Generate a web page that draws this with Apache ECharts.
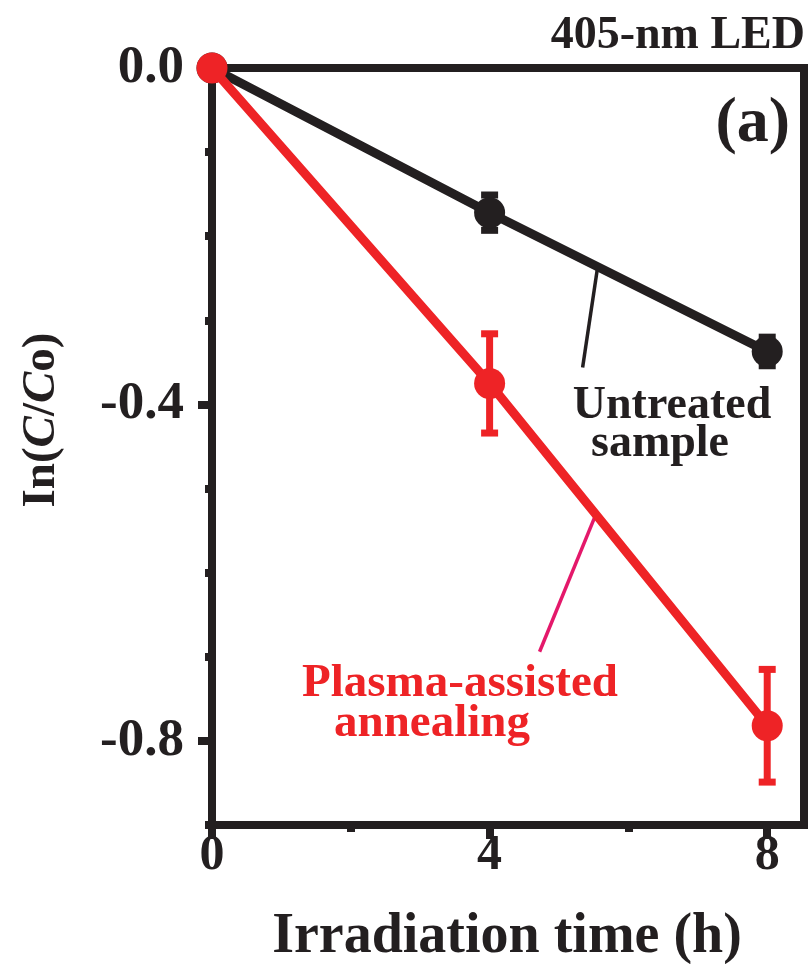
<!DOCTYPE html>
<html><head><meta charset="utf-8">
<script src="https://cdn.jsdelivr.net/npm/echarts@6/dist/echarts.min.js"></script>
<style>html,body{margin:0;padding:0;background:#fff}#c{width:812px;height:964px}</style>
</head><body><div id="c"></div>
<script>
// ---- data ----
const times = [0, 4, 8];
const untreated = [0, -0.172, -0.337];
const untreatedErr = [0, 0.021, 0.017];
const plasma = [0, -0.375, -0.782];
const plasmaErr = [0, 0.059, 0.067];
const xMajorTicks = [0, 4, 8];
const xMinorTicks = [2, 6];
const yMajorTicks = [0, -0.4, -0.8];
const yMinorTicks = [-0.1, -0.2, -0.3, -0.5, -0.6, -0.7, -0.9];
const untreatedLeader = [[5.555, -0.2375], [5.34, -0.356]];
const plasmaLeader = [[5.54, -0.529], [4.72, -0.694]];

// ---- chart ----
const BLACK = '#231f20', RED = '#ee2326', PINK = '#e4186a';
const FONT = 'Liberation Serif';
const chart = echarts.init(document.getElementById('c'));

function pairs(xs, ys, es) { return xs.map((x, i) => es ? [x, ys[i], es[i]] : [x, ys[i]]); }

function errRender(color) {
  return function (params, api) {
    const x = api.value(0), y = api.value(1), e = api.value(2);
    if (!e) return null;
    const t = api.coord([x, y + e]), b = api.coord([x, y - e]);
    const h = 8.5, st = { stroke: color, lineWidth: 7 };
    return { type: 'group', children: [
      { type: 'line', shape: { x1: t[0], y1: t[1], x2: b[0], y2: b[1] }, style: st },
      { type: 'line', shape: { x1: t[0] - h, y1: t[1], x2: t[0] + h, y2: t[1] }, style: st },
      { type: 'line', shape: { x1: b[0] - h, y1: b[1], x2: b[0] + h, y2: b[1] }, style: st }
    ]};
  };
}

const labelFont = { fontFamily: FONT, fontWeight: 'bold', color: BLACK };
function txt(text, x, y, size, fill, extra) {
  return Object.assign({ type: 'text', x: x, y: y, style: Object.assign({ text: text, fontSize: size, fontFamily: FONT, fontWeight: 'bold', fill: fill, textAlign: 'center', textVerticalAlign: 'middle' }, extra || {}) });
}

chart.setOption({
  animation: false,
  grid: { left: 212, top: 68, width: 592, height: 757, show: true, borderWidth: 8, borderColor: BLACK,
    containLabel: false, outerBoundsMode: 'none' },
  xAxis: [{
    type: 'value', min: 0, max: 8.53, position: 'bottom',
    axisLine: { onZero: false, lineStyle: { color: BLACK, width: 8 } },
    axisTick: { customValues: xMajorTicks, length: 14, lineStyle: { color: BLACK, width: 8 } },
    axisLabel: Object.assign({ customValues: xMajorTicks, fontSize: 50, margin: 6 }, labelFont),
    splitLine: { show: false }
  }, {
    type: 'value', min: 0, max: 8.53, position: 'bottom',
    axisLine: { show: false, onZero: false },
    axisTick: { customValues: xMinorTicks, length: 7, lineStyle: { color: BLACK, width: 8 } },
    axisLabel: { show: false }, splitLine: { show: false }
  }],
  yAxis: [{
    type: 'value', min: -0.9, max: 0, position: 'left',
    axisLine: { onZero: false, lineStyle: { color: BLACK, width: 8 } },
    axisTick: { customValues: yMajorTicks, length: 14, lineStyle: { color: BLACK, width: 8 } },
    axisLabel: Object.assign({ customValues: yMajorTicks, fontSize: 53, margin: 28,
      formatter: v => (v === 0 ? '0.0' : v.toFixed(1)) }, labelFont),
    splitLine: { show: false }
  }, {
    type: 'value', min: -0.9, max: 0, position: 'left',
    axisLine: { show: false, onZero: false },
    axisTick: { customValues: yMinorTicks, length: 7, lineStyle: { color: BLACK, width: 8 } },
    axisLabel: { show: false }, splitLine: { show: false }
  }],
  series: [
    { type: 'line', data: untreatedLeader, symbol: 'none', lineStyle: { color: BLACK, width: 3.5 }, z: 1, silent: true },
    { type: 'line', data: plasmaLeader, symbol: 'none', lineStyle: { color: PINK, width: 3.5 }, z: 1, silent: true },
    { type: 'custom', data: pairs(times, untreated, untreatedErr), renderItem: errRender(BLACK), z: 2 },
    { type: 'line', data: pairs(times, untreated), symbol: 'circle', symbolSize: 31,
      itemStyle: { color: BLACK }, lineStyle: { color: BLACK, width: 9 }, z: 3 },
    { type: 'custom', data: pairs(times, plasma, plasmaErr), renderItem: errRender(RED), z: 4 },
    { type: 'line', data: pairs(times, plasma), symbol: 'circle', symbolSize: 31,
      itemStyle: { color: RED }, lineStyle: { color: RED, width: 9 }, z: 5 }
  ],
  graphic: [
    txt('405-nm LED', 805, 36, 46, BLACK, { textAlign: 'right' }),
    txt('(a)', 790, 124, 64, BLACK, { textAlign: 'right' }),
    txt('Untreated', 672, 406, 46, BLACK),
    txt('sample', 660, 444, 46, BLACK),
    txt('Plasma-assisted', 460, 684, 47, RED),
    txt('annealing', 432, 724, 47, RED),
    txt('Irradiation time (h)', 507, 938, 56, BLACK),
    { type: 'text', x: 42, y: 420, rotation: Math.PI / 2,
      style: { text: 'In({i|C}/{i|C}o)', fontSize: 47, fontFamily: FONT, fontWeight: 'bold', fill: BLACK,
        textAlign: 'center', textVerticalAlign: 'middle',
        rich: { i: { fontSize: 47, fontFamily: FONT, fontWeight: 'bold', fontStyle: 'italic', fill: BLACK } } } }
  ]
});
</script></body></html>
